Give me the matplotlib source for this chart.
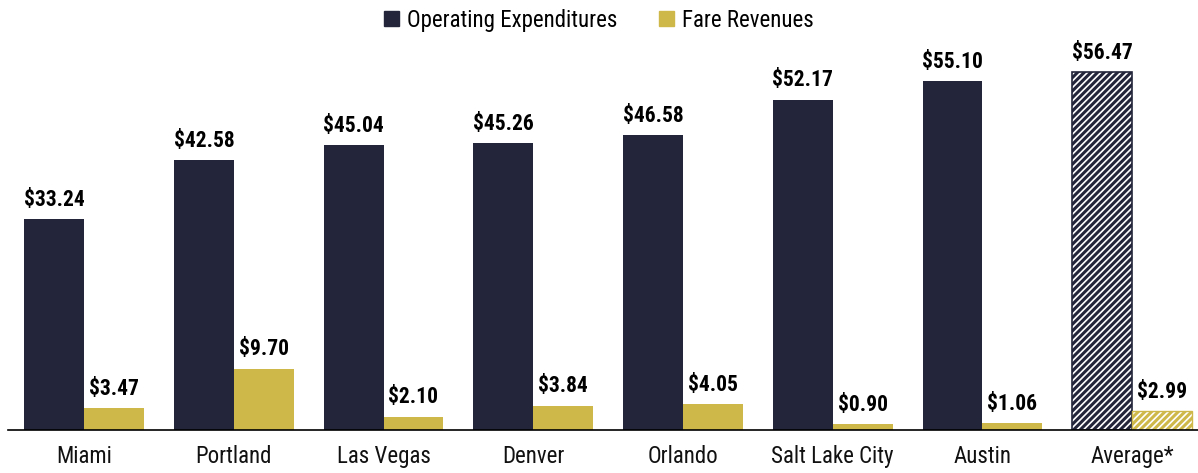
import numpy as np
import matplotlib.pyplot as plt
from matplotlib.patches import Patch
from matplotlib import font_manager

cities = ["Miami", "Portland", "Las Vegas", "Denver", "Orlando", "Salt Lake City", "Austin", "Average*"]
op_exp = [33.24, 42.58, 45.04, 45.26, 46.58, 52.17, 55.10, 56.47]
fare_rev = [3.47, 9.70, 2.10, 3.84, 4.05, 0.90, 1.06, 2.99]

navy = "#23263b"
gold = "#cfb84a"

names = {f.name for f in font_manager.fontManager.ttflist}
fam = "Roboto Condensed" if "Roboto Condensed" in names else "DejaVu Sans"
plt.rcParams['font.family'] = [fam, 'DejaVu Sans']
plt.rcParams['hatch.linewidth'] = 1.2

fig = plt.figure(figsize=(11.98, 4.73), dpi=100)
ax = fig.add_axes([8 / 1198, 43 / 473, 1190 / 1198, 380 / 473])

x = np.arange(len(cities))
w = 0.4
n = len(cities) - 1

# regular bars
ax.bar(x[:n] - w / 2, op_exp[:n], w, color=navy, linewidth=0)
ax.bar(x[:n] + w / 2, fare_rev[:n], w, color=gold, linewidth=0)

# hatched average bars
ax.bar(x[n] - w / 2, op_exp[n], w, color=navy, edgecolor="white", hatch="/////", linewidth=0)
ax.bar(x[n] - w / 2, op_exp[n], w, fill=False, edgecolor=navy, linewidth=1.2)
ax.bar(x[n] + w / 2, fare_rev[n], w, color=gold, edgecolor="white", hatch="/////", linewidth=0)
ax.bar(x[n] + w / 2, fare_rev[n], w, fill=False, edgecolor=gold, linewidth=1.0)

for i in range(len(cities)):
    ax.text(x[i] - w / 2, op_exp[i] + 1.3, f"${op_exp[i]:.2f}", ha="center", va="bottom",
            fontsize=15.5, fontweight="bold", color="black")
    ax.text(x[i] + w / 2, fare_rev[i] + 1.3, f"${fare_rev[i]:.2f}", ha="center", va="bottom",
            fontsize=15.5, fontweight="bold", color="black")

ax.set_xlim(-0.508, 7.44)
ax.set_ylim(0, 60)
ax.set_xticks(x)
ax.set_xticklabels(cities, fontsize=16.5, color="#111111")
ax.tick_params(axis="x", length=0, pad=11)
ax.set_yticks([])
for s in ["top", "right", "left"]:
    ax.spines[s].set_visible(False)
ax.spines["bottom"].set_linewidth(1.2)

handles = [Patch(color=navy, label="Operating Expenditures"), Patch(color=gold, label="Fare Revenues")]
fig.legend(handles=handles, loc="upper center", bbox_to_anchor=(0.5, 1.025), ncol=2, frameon=False,
           fontsize=16.5, handlelength=0.65, handleheight=0.65, handletextpad=0.35, columnspacing=1.8)

fig.savefig("out.png", dpi=100)
